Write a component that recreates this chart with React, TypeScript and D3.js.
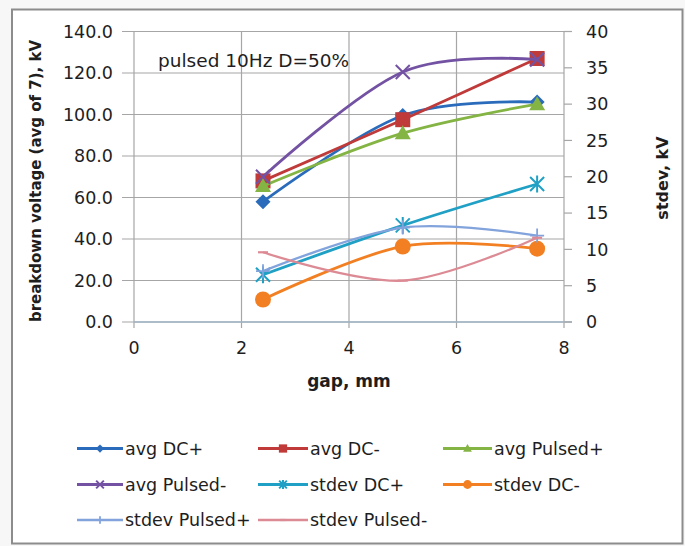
import React from "react";
import * as d3 from "d3";

// ---- data ----
const GAP_MM = [2.4, 5, 7.5];
const SERIES_NAMES = [
  "avg DC+",
  "avg DC-",
  "avg Pulsed+",
  "avg Pulsed-",
  "stdev DC+",
  "stdev DC-",
  "stdev Pulsed+",
  "stdev Pulsed-",
];
const AVG_DC_PLUS = [58, 99.5, 106];
const AVG_DC_MINUS = [68, 97.5, 127];
const AVG_PULSED_PLUS = [65.5, 91, 105];
const AVG_PULSED_MINUS = [70, 120.5, 126.5];
const STDEV_DC_PLUS = [6.5, 13.3, 19.0];
const STDEV_DC_MINUS = [3.1, 10.4, 10.1];
const STDEV_PULSED_PLUS = [7.0, 13.0, 11.9];
const STDEV_PULSED_MINUS = [9.6, 5.7, 11.6];

const LEFT_TICKS = [0, 20, 40, 60, 80, 100, 120, 140];
const RIGHT_TICKS = [0, 5, 10, 15, 20, 25, 30, 35, 40];
const X_TICKS = [0, 2, 4, 6, 8];

const ANNOTATION = "pulsed 10Hz D=50%";
const X_TITLE = "gap, mm";
const Y_LEFT_TITLE = "breakdown voltage (avg of 7), kV";
const Y_RIGHT_TITLE = "stdev, kV";

// ---- styling ----
const COLORS = ["#2a6bbb", "#bf3a39", "#84b443", "#7452a3", "#1fa0c4", "#f27f22", "#82a3dc", "#dc8b95"];
const MARKERS = ["diamond", "square", "triangle", "x", "star", "circle", "plus", "dash"];
const WIDTHS = [2.8, 2.8, 2.8, 2.8, 2.8, 2.8, 2.3, 2.3];
const FONT = "'DejaVu Sans', Verdana, sans-serif";

const W = 685;
const H = 546;
const PLOT = { left: 134, right: 564, top: 31.5, bottom: 322 };

function Marker({ type, cx, cy, color, s = 1 }: { type: string; cx: number; cy: number; color: string; s?: number }) {
  switch (type) {
    case "diamond": {
      const r = 7.5 * s;
      return <path d={`M${cx},${cy - r}L${cx + r},${cy}L${cx},${cy + r}L${cx - r},${cy}Z`} fill={color} />;
    }
    case "square": {
      const r = 7.5 * s;
      return <rect x={cx - r} y={cy - r} width={2 * r} height={2 * r} fill={color} />;
    }
    case "triangle": {
      const r = 8 * s;
      return <path d={`M${cx},${cy - r}L${cx + r},${cy + r * 0.75}L${cx - r},${cy + r * 0.75}Z`} fill={color} />;
    }
    case "x": {
      const r = 7 * s;
      return (
        <path d={`M${cx - r},${cy - r}L${cx + r},${cy + r}M${cx - r},${cy + r}L${cx + r},${cy - r}`} stroke={color} strokeWidth={2} />
      );
    }
    case "star": {
      const r = 7 * s;
      return (
        <path
          d={`M${cx - r},${cy - r}L${cx + r},${cy + r}M${cx - r},${cy + r}L${cx + r},${cy - r}M${cx},${cy - r * 1.2}L${cx},${cy + r * 1.2}`}
          stroke={color}
          strokeWidth={2}
        />
      );
    }
    case "circle":
      return <circle cx={cx} cy={cy} r={8 * s} fill={color} />;
    case "plus": {
      const r = 7 * s;
      return <path d={`M${cx - r},${cy}L${cx + r},${cy}M${cx},${cy - r}L${cx},${cy + r}`} stroke={color} strokeWidth={1.8} />;
    }
    case "dash": {
      const r = 5 * s;
      return <path d={`M${cx - r},${cy}L${cx + r},${cy}`} stroke={color} strokeWidth={2.2} />;
    }
    default:
      return null;
  }
}

export default function App() {
  const x = d3.scaleLinear().domain([0, 8]).range([PLOT.left, PLOT.right]);
  const yL = d3.scaleLinear().domain([0, 140]).range([PLOT.bottom, PLOT.top]);
  const yR = d3.scaleLinear().domain([0, 40]).range([PLOT.bottom, PLOT.top]);

  const seriesValues = [
    AVG_DC_PLUS,
    AVG_DC_MINUS,
    AVG_PULSED_PLUS,
    AVG_PULSED_MINUS,
    STDEV_DC_PLUS,
    STDEV_DC_MINUS,
    STDEV_PULSED_PLUS,
    STDEV_PULSED_MINUS,
  ];
  const series = SERIES_NAMES.map((name, i) => {
    const scale = i < 4 ? yL : yR;
    const pts: [number, number][] = GAP_MM.map((g, j) => [x(g), scale(seriesValues[i][j])]);
    return { name, pts, color: COLORS[i], marker: MARKERS[i], width: WIDTHS[i] };
  });

  const line = d3.line<[number, number]>().curve(d3.curveCardinal.tension(0));

  const fmtL = d3.format(".1f");

  const legendRows = [448.5, 484.5, 520];
  const legendCols = [
    { l0: 77, l1: 123, t: 125 },
    { l0: 258, l1: 308, t: 310 },
    { l0: 443, l1: 492, t: 494 },
  ];

  return (
    <svg width={W} height={H} style={{ position: "absolute", left: 0, top: 0, display: "block" }} fontFamily={FONT}>
      <rect x={0} y={0} width={W} height={H} fill="#f7f7f7" />
      <rect x={12} y={9.5} width={670.5} height={534} fill="#ffffff" stroke="#8c8c8c" strokeWidth={2} />

      {/* gridlines */}
      {LEFT_TICKS.map((t) => (
        <line key={"gy" + t} x1={PLOT.left - 12} x2={PLOT.right} y1={yL(t)} y2={yL(t)} stroke="#a6a6a6" strokeWidth={1.2} />
      ))}
      {X_TICKS.map((t) => (
        <line key={"gx" + t} x1={x(t)} x2={x(t)} y1={PLOT.top} y2={PLOT.bottom + 6} stroke="#a6a6a6" strokeWidth={1.2} />
      ))}
      {/* bottom axis line */}
      <line x1={PLOT.left} x2={PLOT.right + 8} y1={PLOT.bottom} y2={PLOT.bottom} stroke="#9fb4c6" strokeWidth={1.4} />
      {/* right axis ticks */}
      {RIGHT_TICKS.map((t) => (
        <line key={"rt" + t} x1={PLOT.right} x2={PLOT.right + 8} y1={yR(t)} y2={yR(t)} stroke="#a6a6a6" strokeWidth={1.2} />
      ))}

      {/* tick labels */}
      {LEFT_TICKS.map((t) => (
        <text key={"lt" + t} x={113} y={yL(t)} dy="0.36em" textAnchor="end" fontSize={17.5} fill="#1e1e1e">
          {fmtL(t)}
        </text>
      ))}
      {RIGHT_TICKS.map((t) => (
        <text key={"rl" + t} x={586} y={yR(t)} dy="0.36em" textAnchor="start" fontSize={17.5} fill="#1e1e1e">
          {t}
        </text>
      ))}
      {X_TICKS.map((t) => (
        <text key={"xl" + t} x={x(t)} y={348} dy="0.36em" textAnchor="middle" fontSize={17.5} fill="#1e1e1e">
          {t}
        </text>
      ))}

      {/* axis titles */}
      <text x={349} y={387} textAnchor="middle" fontSize={17} fontWeight="bold" fill="#1e1e1e">
        {X_TITLE}
      </text>
      <text
        transform={`translate(41,181) rotate(-90)`}
        textAnchor="middle"
        fontSize={16}
        fontWeight="bold"
        fill="#1e1e1e"
        textLength={282}
        lengthAdjust="spacingAndGlyphs"
      >
        {Y_LEFT_TITLE}
      </text>
      <text transform={`translate(668,178) rotate(-90)`} textAnchor="middle" fontSize={16} fontWeight="bold" fill="#1e1e1e">
        {Y_RIGHT_TITLE}
      </text>

      {/* annotation */}
      <text x={158} y={67} fontSize={18.5} fill="#1e1e1e">
        {ANNOTATION}
      </text>

      {/* series */}
      {series.map((s) => (
        <g key={s.name}>
          <path d={line(s.pts) || ""} fill="none" stroke={s.color} strokeWidth={s.width} strokeLinejoin="round" />
          {s.pts.map(([px, py], j) => (
            <Marker key={j} type={s.marker} cx={px} cy={py} color={s.color} />
          ))}
        </g>
      ))}

      {/* legend */}
      {series.map((s, i) => {
        const row = Math.floor(i / 3);
        const col = i % 3;
        const y = legendRows[row];
        const c = legendCols[col];
        return (
          <g key={"lg" + s.name}>
            <line x1={c.l0} x2={c.l1} y1={y} y2={y} stroke={s.color} strokeWidth={s.width} />
            <Marker type={s.marker} cx={(c.l0 + c.l1) / 2} cy={y} color={s.color} s={0.55} />
            <text x={c.t} y={y} dy="0.36em" fontSize={17.5} fill="#1e1e1e">
              {s.name}
            </text>
          </g>
        );
      })}
    </svg>
  );
}
